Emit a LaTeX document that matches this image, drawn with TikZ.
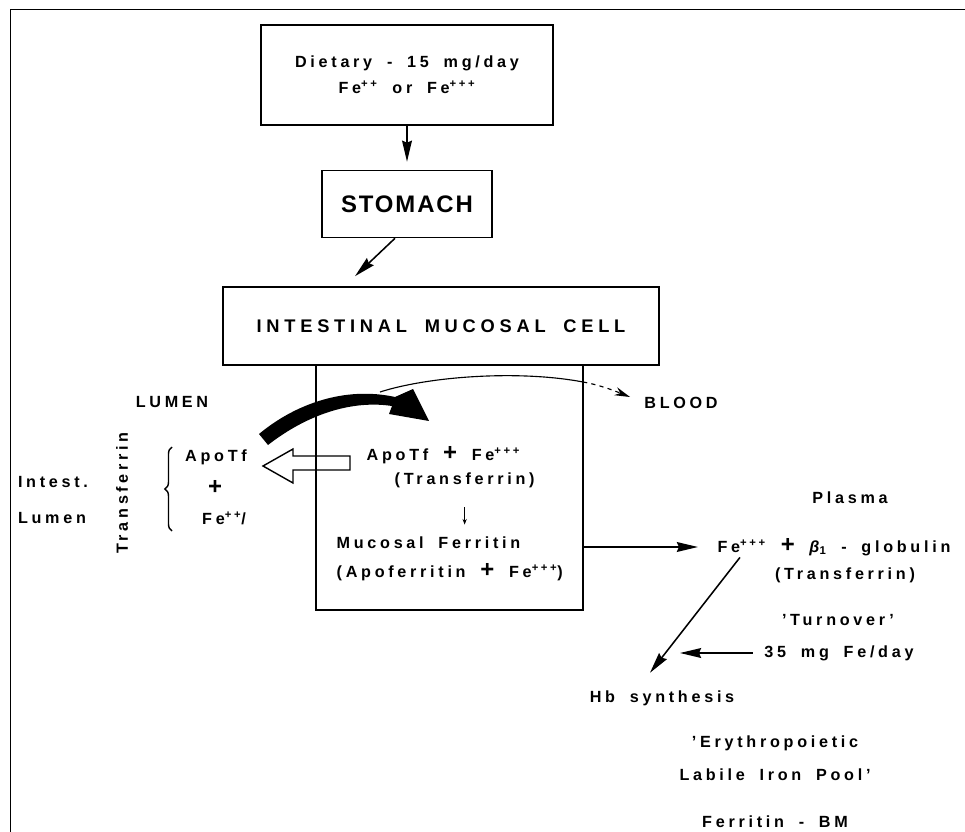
\documentclass[tikz,border=0pt]{standalone}
\usepackage{fontspec}
\setmainfont{Liberation Sans}[LetterSpace=23, WordSpace=1.8]
\usepackage{tikz}
\usetikzlibrary{arrows.meta,positioning,calc,decorations.pathreplacing}
\newcommand{\bplus}{{\fontsize{17}{17}\selectfont +}}
\newcommand{\sups}[1]{\textsuperscript{#1}}
\tikzset {
    box/.style={draw, line width=1.1pt, inner sep=0pt, align=center,
        font=\fontsize{11.5}{18.4}\selectfont\bfseries},
    txt/.style={inner sep=1pt, align=center, font=\fontsize{11.5}{14}\selectfont\bfseries},
    flow/.style={draw, line width=1.1pt,
        -{Stealth[length=15pt, width=7pt, inset=1.5pt]}},
    thin/.style={draw, line width=0.8pt},
    >=Stealth
}
\begin{document}
\begin{tikzpicture}[x=0.025cm, y=-0.025cm]

        \useasboundingbox (0,0) rectangle (965,832);
        \draw[line width=0.6pt] (10,840) -- (10,9) -- (970,9);

        \node[box, minimum width=7.3cm, minimum height=2.5cm] (diet) at (407,75)
            {Dietary - 15 mg/day\\Fe\sups{++} or Fe\sups{+++}};
        \node[box, minimum width=4.25cm, minimum height=1.675cm,
            font=\fontsize{17}{20}\selectfont\bfseries\addfontfeature{LetterSpace=8}] (stom) at (407,204) {STOMACH};
        \node[box, minimum width=10.9cm, minimum height=1.95cm,
            font=\fontsize{13}{15}\selectfont\bfseries\addfontfeature{LetterSpace=26}] (intest) at (441,326)
            {INTESTINAL MUCOSAL CELL};
        \node[box, minimum width=6.675cm, minimum height=6.125cm] (cell) at (449.5,487.5) {};

        \draw[flow, shorten >=0.2cm] (diet.south) -- (stom.north);
        \draw[flow] ([xshift=-0.3cm]stom.south) -- ([xshift=-2.15cm, yshift=0.25cm]intest.north);

        % lumen side
        \node[txt] (lumen) at (172,402) {LUMEN};
        \node[txt, rotate=90] (trf) at (122,493) {Transferrin};
        \node[txt] (intl) at (53,482) {Intest.};
        \node[txt] (lum) at (52,518) {Lumen};
        \node[txt] (apo) at (216,457) {ApoTf};
        \node[txt] (plus) at (215,487) {\bplus};
        \node[txt] (fe2) at (224,518) {Fe\sups{++}/};
        \draw[line width=1pt, decorate, decoration={brace, amplitude=5pt}] (172,531) -- (172,447);

        % inside the cell
        \node[txt, anchor=west] (apofe) at (365,455) {ApoTf \bplus\ Fe\sups{+++}};
        \node[txt, anchor=west] (tfc) at (393,480) {(Transferrin)};
        \node[txt, anchor=west] (muc) at (335,543) {Mucosal Ferritin};
        \node[txt, anchor=west] (apof) at (335,572) {(Apoferritin \bplus\ Fe\sups{+++})};
        \draw[thin, -{Stealth[length=4pt, width=3pt]}, shorten <=0.45cm, shorten >=0.27cm]
            (tfc.south) -- (tfc.south |- muc.north);

        \fill (259,434) .. controls (295,404) and (345,386) .. (395,397) -- (413,389)
            -- (429,421) -- (389,414) -- (392,406) .. controls (345,399) and (300,420) .. (268,445) -- cycle;
        \draw[line width=1pt] (350,456) -- (293,456) -- (293,449) -- (263,466)
            -- (293,483) -- (293,470) -- (350,470) -- cycle;

        % blood side
        \node[txt] (blood) at (681,403) {BLOOD};
        \coordinate (leave) at (380,392);
        \coordinate (wall) at (583,382);
        \coordinate (toblood) at (630,397);
        \draw[thin] (leave) .. controls (430,376) and (520,370) .. (wall);
        \draw[thin, dashed, -{Stealth[length=11pt, width=6pt]}] (wall) .. controls (600,385) and (615,391) .. (toblood);

        \node[txt] (plasma) at (850,498) {Plasma};
        \node[txt] (fe) at (834,547) {Fe\sups{+++} \bplus\ {\itshape β}\textsubscript{1} - globulin};
        \node[txt] (tfp) at (845,575) {(Transferrin)};
        \node[txt] (turn) at (838,620) {'Turnover'};
        \node[txt] (day) at (839,653) {35 mg Fe/day};
        \node[txt] (hb) at (662,698) {Hb synthesis};
        \node[txt] (ery) at (775,743) {'Erythropoietic};
        \node[txt] (pool) at (775,775) {Labile Iron Pool'};
        \node[txt] (bm) at (775,822) {Ferritin - BM};
        \coordinate (inflow) at (680,653);

        \draw[flow, shorten >=0.45cm] (cell.east |- fe) -- (fe.west);
        \draw[flow] ([xshift=0.6cm]fe.south west) -- ([xshift=-0.3cm, yshift=0.4cm]hb.north);
        \draw[flow, shorten <=0.25cm] (day.west) -- (inflow);

    \end{tikzpicture}
\end{document}
